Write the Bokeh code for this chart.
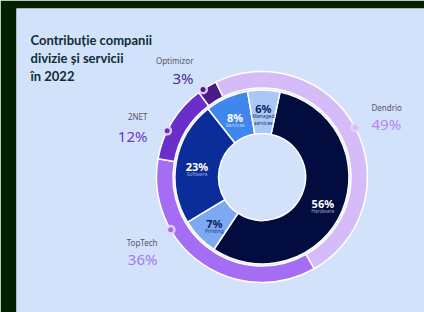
import math
from bokeh.plotting import figure
from bokeh.models import Range1d
from bokeh.embed import file_html
from bokeh.resources import INLINE
from bokeh.core.properties import value

# ---- data ----
companies = ["Dendrio", "TopTech", "2NET", "Optimizor"]
company_pct = [49, 36, 12, 3]
company_colors = ["#D6BBF9", "#A56CF4", "#6A2FC8", "#4A1A88"]
company_pct_colors = ["#B287F3", "#A579F0", "#6A38C9", "#4B2A9B"]

divisions = ["Hardware", "Printing", "Software", "Services", "Managed\nservices"]
division_pct = [56, 7, 23, 8, 6]
division_colors = ["#020C3E", "#7DA9F2", "#0A2D99", "#3F86EE", "#A9C8F5"]
division_pct_colors = ["#FFFFFF", "#0B1F5C", "#FFFFFF", "#FFFFFF", "#0B1F5C"]
division_name_colors = ["#9AA3C8", "#1B3A7A", "#8FA8E8", "#C0D8FF", "#1B2F6A"]

title_lines = ["Contribuție companii", "divizie și servicii", "în 2022"]

# ---- layout constants (data units == screen pixels) ----
W, H = 424, 312
CX, CY = 261.5, 312 - 176.5
R_OUT_O, R_OUT_I = 105.5, 89
R_IN_O, R_IN_I = 87, 43.5
OUTER_START = 116.0
INNER_START = 78.0
marker_angles = [28.0, 210.0, 154.0, 124.0]
label_anchor = [(371, 205, 189, "left"), (157, 70, 54, "right"),
                (147, 196, 177, "right"), (193, 252, 235, "right")]

p = figure(width=W, height=H, output_backend="svg", toolbar_location=None,
           x_range=Range1d(16, 424), y_range=Range1d(0, 304),
           x_axis_type=None, y_axis_type=None,
           min_border_left=16, min_border_right=0, min_border_top=8, min_border_bottom=0)
p.background_fill_color = "#D3E2FB"
p.border_fill_color = "#022100"
p.outline_line_color = None
p.grid.visible = False


def ring(pcts, start_deg):
    starts, ends = [], []
    a = start_deg
    for v in pcts:
        span = v / 100 * 360
        starts.append(math.radians(a - span))
        ends.append(math.radians(a))
        a -= span
    return starts, ends


os_, oe_ = ring(company_pct, OUTER_START)
p.annular_wedge(x=CX, y=CY, inner_radius=R_OUT_I, outer_radius=R_OUT_O,
                start_angle=os_, end_angle=oe_, fill_color=company_colors,
                line_color="white", line_width=1.5)

is_, ie_ = ring(division_pct, INNER_START)
p.annular_wedge(x=CX, y=CY, inner_radius=R_IN_I, outer_radius=R_IN_O,
                start_angle=is_, end_angle=ie_, fill_color=division_colors,
                line_color="white", line_width=1.5)

# inner labels
mids = [(s + e) / 2 for s, e in zip(is_, ie_)]
RL = 66
lx = [CX + RL * math.cos(m) for m in mids]
ly = [CY + RL * math.sin(m) for m in mids]
nlines = [d.count("\n") + 1 for d in divisions]
pct_base = [y - 1 + 3.5 * (n - 1) for y, n in zip(ly, nlines)]
p.text(x=lx, y=pct_base, text=[f"{v}%" for v in division_pct],
       text_color=division_pct_colors, text_font=value("Noto Sans"),
       text_font_size="11px", text_font_style="bold",
       text_align="center", text_baseline="alphabetic")
p.text(x=lx, y=[b - 4.5 for b in pct_base], text=divisions,
       text_color=division_name_colors, text_font=value("Noto Sans"),
       text_font_size="5px", text_align="center", text_baseline="top",
       text_line_height=1.2)

# outer markers
mx = [CX + R_OUT_O * math.cos(math.radians(a)) for a in marker_angles]
my = [CY + R_OUT_O * math.sin(math.radians(a)) for a in marker_angles]
p.scatter(x=mx, y=my, size=10, fill_color="#E4D6FB", line_color=None, fill_alpha=0.9)
p.scatter(x=mx, y=my, size=5, fill_color=company_colors, line_color=None)

# outer labels
for name, pct, col, (ax, yn, yp, al) in zip(companies, company_pct, company_pct_colors, label_anchor):
    p.text(x=[ax], y=[yn], text=[name], text_color="#55566A",
           text_font=value("Noto Sans"), text_font_size="8px",
           text_align=al, text_baseline="alphabetic")
    p.text(x=[ax], y=[yp], text=[f"{pct}%"], text_color=col,
           text_font=value("Noto Sans"), text_font_size="15px",
           text_align=al, text_baseline="alphabetic")

# title
p.text(x=[30, 30, 30], y=[273, 255, 237], text=title_lines,
       text_color="#0E2D35", text_font=value("Lato"), text_font_size="13px",
       text_font_style="bold", text_align="left", text_baseline="alphabetic")

open("out.html", "w").write(file_html(p, INLINE, title="Contribuție companii"))
